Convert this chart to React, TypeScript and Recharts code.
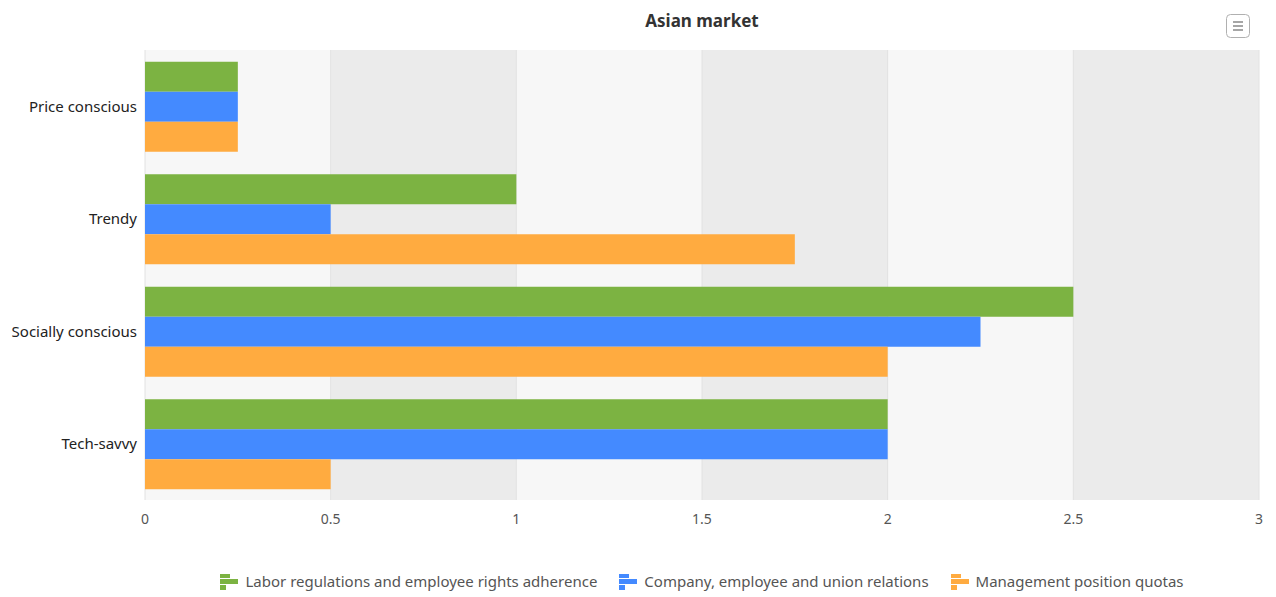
import { BarChart, Bar, XAxis, YAxis, CartesianGrid } from 'recharts'

const categories = ['Price conscious', 'Trendy', 'Socially conscious', 'Tech-savvy']
const laborRights = [0.25, 1, 2.5, 2]
const unionRelations = [0.25, 0.5, 2.25, 2]
const managementQuotas = [0.25, 1.75, 2, 0.5]
const xTicks = [0, 0.5, 1, 1.5, 2, 2.5, 3]

const SERIES = [
  { key: 'labor', name: 'Labor regulations and employee rights adherence', color: '#7CB342' },
  { key: 'union', name: 'Company, employee and union relations', color: '#448AFF' },
  { key: 'quotas', name: 'Management position quotas', color: '#FFAB40' },
]

const data = categories.map((c, i) => ({
  category: c,
  labor: laborRights[i],
  union: unionRelations[i],
  quotas: managementQuotas[i],
}))

const FONT = '"Noto Sans", "Open Sans", sans-serif'

// little horizontal-bar glyph used in the legend
function LegendIcon({ color }: { color: string }) {
  return (
    <svg width={18} height={17} style={{ marginRight: 7 }}>
      <rect x={0} y={1} width={10} height={4} fill={color} />
      <rect x={0} y={6} width={18} height={5} fill={color} />
      <rect x={0} y={12} width={6} height={5} fill={color} />
    </svg>
  )
}

export default function App() {
  return (
    <div style={{ position: 'absolute', left: 0, top: 0, width: 1276, height: 597, fontFamily: FONT }}>
      <div
        style={{
          position: 'absolute', left: 145, width: 1114, top: 9, textAlign: 'center',
          fontWeight: 700, fontSize: 17, color: '#333',
        }}
      >
        Asian market
      </div>
      <svg style={{ position: 'absolute', left: 1226, top: 14 }} width={25} height={25}>
        <rect x={0.5} y={0.5} width={23} height={23} rx={4} fill="#fff" stroke="#b0b0b0" />
        <line x1={7} x2={17} y1={8} y2={8} stroke="#888" strokeWidth={1.5} />
        <line x1={7} x2={17} y1={12} y2={12} stroke="#888" strokeWidth={1.5} />
        <line x1={7} x2={17} y1={16} y2={16} stroke="#888" strokeWidth={1.5} />
      </svg>
      <BarChart
        width={1276}
        height={597}
        data={data}
        layout="vertical"
        margin={{ top: 50, right: 17, bottom: 67, left: 0 }}
        barCategoryGap="10.5%"
        barGap={0}
      >
        <CartesianGrid
          horizontal={false}
          stroke="#e2e2e2"
          verticalFill={['#f7f7f7', '#ebebeb']}
          fillOpacity={1}
        />
        <XAxis
          type="number"
          domain={[0, 3]}
          ticks={xTicks}
          axisLine={false}
          tickLine={false}
          tick={{ fill: '#555', fontSize: 14, fontFamily: FONT }}
          tickMargin={8}
          height={30}
          interval={0}
        />
        <YAxis
          type="category"
          dataKey="category"
          width={145}
          axisLine={false}
          tickLine={false}
          tick={{ fill: '#222', fontSize: 15, fontFamily: FONT }}
          tickMargin={2}
        />
        {SERIES.map((s) => (
          <Bar key={s.key} dataKey={s.key} name={s.name} fill={s.color} isAnimationActive={false} />
        ))}
      </BarChart>
      <div
        style={{
          position: 'absolute', left: 0, width: 1404, top: 571, display: 'flex',
          justifyContent: 'center', gap: 22, fontSize: 15, color: '#555',
        }}
      >
        {SERIES.map((s) => (
          <div key={s.key} style={{ display: 'flex', alignItems: 'center' }}>
            <LegendIcon color={s.color} />
            <span>{s.name}</span>
          </div>
        ))}
      </div>
    </div>
  )
}
